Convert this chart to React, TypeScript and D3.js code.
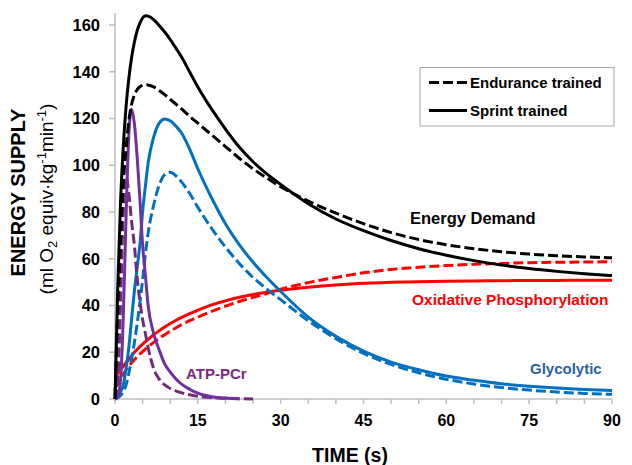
import React from "react";
import * as d3 from "d3";

const TIME = [0, 0.5, 1, 1.5, 2, 2.5, 3, 3.5, 4, 4.5, 5, 5.5, 6, 7, 8, 9, 10, 11, 12, 13.5, 15, 17.5, 20, 22.5, 25, 27.5, 30, 35, 40, 45, 50, 55, 60, 65, 70, 75, 80, 85, 90];

const DEMAND_SPRINT = [0, 48, 84, 108, 125, 137, 146, 152.5, 157.5, 160.7, 163, 164, 163.8, 162.3, 159.8, 157, 153.8, 150.2, 146.5, 140, 133.5, 124, 115.5, 107.8, 101.5, 96.3, 91.8, 83.5, 77, 72, 67.8, 64.3, 61.5, 59.2, 57.3, 55.8, 54.6, 53.6, 52.8];
const DEMAND_ENDURANCE = [0, 38, 68, 92, 107, 119, 126, 130, 132.3, 133.6, 134.2, 134.4, 134.3, 133.5, 132, 130.2, 128.2, 126.2, 124.2, 121, 118, 113, 108, 103, 98.5, 94.5, 90.8, 84.7, 79.5, 75, 71.2, 68.2, 66, 64.3, 63, 62, 61.3, 60.8, 60.4];
const PCR_SPRINT = [0, 1, 8, 35, 78, 113, 124, 118, 104, 86, 66, 53, 40, 28, 21, 15, 11.5, 8.7, 6.5, 4.2, 2.5, 1, 0.4, 0.1, null, null, null, null, null, null, null, null, null, null, null, null, null, null, null];
const PCR_ENDURANCE = [0, 8, 40, 80, 95, 88, 76, 66, 52, 42, 34, 28, 22, 13, 8.5, 6, 4.5, 3.5, 2.7, 1.8, 1.2, 0.6, 0.3, 0.1, 0, null, null, null, null, null, null, null, null, null, null, null, null, null, null];
const GLYCO_SPRINT = [2, 2, 3, 6, 13, 22, 34, 46, 56, 66, 80, 91, 101, 112, 118, 119.8, 119, 116.8, 114, 107, 98.5, 86, 75, 66, 58.5, 52, 46, 35, 26.8, 20.5, 15.8, 12.5, 9.8, 8, 6.5, 5.5, 4.7, 4.1, 3.6];
const GLYCO_ENDURANCE = [0, 0.5, 1.5, 3, 6, 11, 17, 24, 32, 41, 51, 62, 71, 83, 91.5, 96, 97, 95.5, 93, 88, 82, 73, 65, 58, 52, 47, 42.5, 33.5, 25.8, 19.5, 14.8, 11.2, 8.4, 6.4, 4.9, 3.8, 3, 2.4, 2];
const OXID_SPRINT = [9.5, 11, 12.5, 14, 15.5, 17, 18.5, 20, 21.2, 22.4, 23.5, 24.5, 25.5, 27.5, 29.2, 30.8, 32.3, 33.6, 34.8, 36.5, 38, 40.3, 42, 43.5, 44.7, 45.7, 46.5, 47.8, 48.8, 49.5, 49.9, 50.2, 50.4, 50.5, 50.6, 50.7, 50.7, 50.8, 50.8];
const OXID_ENDURANCE = [4.5, 6.5, 8.5, 10.5, 12.5, 14, 15.5, 16.8, 18, 19.2, 20.3, 21.3, 22.3, 24.2, 26, 27.5, 29, 30.4, 31.7, 33.5, 35, 37.5, 39.7, 41.7, 43.5, 45.1, 47, 49.8, 52, 54, 55.4, 56.4, 57.1, 57.6, 58, 58.3, 58.5, 58.6, 58.7];

const X_TICKS = [0, 15, 30, 45, 60, 75, 90];
const X_MINOR = d3.range(0, 91, 5);
const Y_TICKS = [0, 20, 40, 60, 80, 100, 120, 140, 160];

const LEGEND_LABELS = ["Endurance trained", "Sprint trained"];

const FONT = "'Liberation Sans', Arial, Helvetica, sans-serif";

const series = [
  { values: OXID_ENDURANCE, color: "#FF0000", dashed: true },
  { values: OXID_SPRINT, color: "#FF0000", dashed: false },
  { values: GLYCO_ENDURANCE, color: "#0070C0", dashed: true },
  { values: GLYCO_SPRINT, color: "#0070C0", dashed: false },
  { values: PCR_ENDURANCE, color: "#742A78", dashed: true },
  { values: PCR_SPRINT, color: "#7030A0", dashed: false },
  { values: DEMAND_ENDURANCE, color: "#000000", dashed: true },
  { values: DEMAND_SPRINT, color: "#000000", dashed: false },
];

export default function App() {
  const W = 632;
  const H = 465;
  const x = d3.scaleLinear().domain([0, 90]).range([115, 612]);
  const y = d3.scaleLinear().domain([0, 160]).range([399, 25]);
  const yTop = y(165);
  const axisColor = "#BFBFBF";

  const line = d3
    .line<[number, number | null]>()
    .defined((d) => d[1] !== null)
    .x((d) => x(d[0]))
    .y((d) => y(d[1] as number))
    .curve(d3.curveMonotoneX);

  return (
    <svg width={W} height={H} style={{ position: "absolute", left: 0, top: 0, background: "#fff" }} fontFamily={FONT}>
      <rect x={0} y={0} width={W} height={H} fill="#fff" />
      {/* axes */}
      <line x1={x(0)} x2={x(0)} y1={yTop} y2={y(0)} stroke={axisColor} strokeWidth={1.5} />
      <line x1={x(0)} x2={x(90)} y1={y(0)} y2={y(0)} stroke={axisColor} strokeWidth={1.5} />
      {Y_TICKS.map((t) => (
        <g key={"y" + t}>
          <line x1={x(0) - 6} x2={x(0)} y1={y(t)} y2={y(t)} stroke={axisColor} strokeWidth={1.5} />
          <text x={x(0) - 15} y={y(t)} dy="0.36em" textAnchor="end" fontSize={16.5} fontWeight="bold" fill="#000">
            {t}
          </text>
        </g>
      ))}
      {X_MINOR.map((t) => (
        <line key={"xm" + t} x1={x(t)} x2={x(t)} y1={y(0)} y2={y(0) + 5} stroke={axisColor} strokeWidth={1.5} />
      ))}
      {X_TICKS.map((t) => (
        <text key={"x" + t} x={x(t)} y={425.5} textAnchor="middle" fontSize={16} fontWeight="bold" fill="#000">
          {t}
        </text>
      ))}

      {/* series */}
      {series.map((s, i) => {
        const pts = TIME.map((t, j) => [t, s.values[j]] as [number, number | null]);
        return (
          <path
            key={i}
            d={line(pts) || ""}
            fill="none"
            stroke={s.color}
            strokeWidth={3}
            strokeDasharray={s.dashed ? "10,4" : undefined}
            strokeLinejoin="round"
          />
        );
      })}

      {/* labels */}
      <text x={410} y={224} fontSize={16.5} fontWeight="bold" fill="#000">Energy Demand</text>
      <text x={412} y={305} fontSize={15.5} fontWeight="bold" fill="#FF0000">Oxidative Phosphorylation</text>
      <text x={530} y={374} fontSize={15} fontWeight="bold" fill="#2A62AA">Glycolytic</text>
      <text x={186} y={379} fontSize={15} fontWeight="bold" fill="#7A2A7E">ATP-PCr</text>

      {/* legend */}
      <rect x={420} y={67.5} width={194} height={58.5} fill="#fff" stroke="#A6A6A6" strokeWidth={1} />
      <line x1={429} x2={467} y1={82.5} y2={82.5} stroke="#000" strokeWidth={3} strokeDasharray="10,4" />
      <line x1={429} x2={467} y1={110.5} y2={110.5} stroke="#000" strokeWidth={3} />
      <text x={470} y={87.5} fontSize={15} fontWeight="bold" fill="#000">{LEGEND_LABELS[0]}</text>
      <text x={470} y={116} fontSize={15} fontWeight="bold" fill="#000">{LEGEND_LABELS[1]}</text>

      {/* axis titles */}
      <text x={350} y={462} textAnchor="middle" fontSize={19.5} fontWeight="bold" fill="#000">TIME (s)</text>
      <text transform="translate(25,192.5) rotate(-90)" textAnchor="middle" fontSize={20} fontWeight="bold" fill="#000">
        ENERGY SUPPLY
      </text>
      <text transform="translate(53,199) rotate(-90)" textAnchor="middle" fontSize={19} fill="#000">
        (ml O<tspan dy={4} fontSize={13}>2</tspan>
        <tspan dy={-4}> equiv·kg</tspan>
        <tspan dy={-7} fontSize={13}>-1</tspan>
        <tspan dy={7}>min</tspan>
        <tspan dy={-7} fontSize={13}>-1</tspan>
        <tspan dy={7}>)</tspan>
      </text>
    </svg>
  );
}
